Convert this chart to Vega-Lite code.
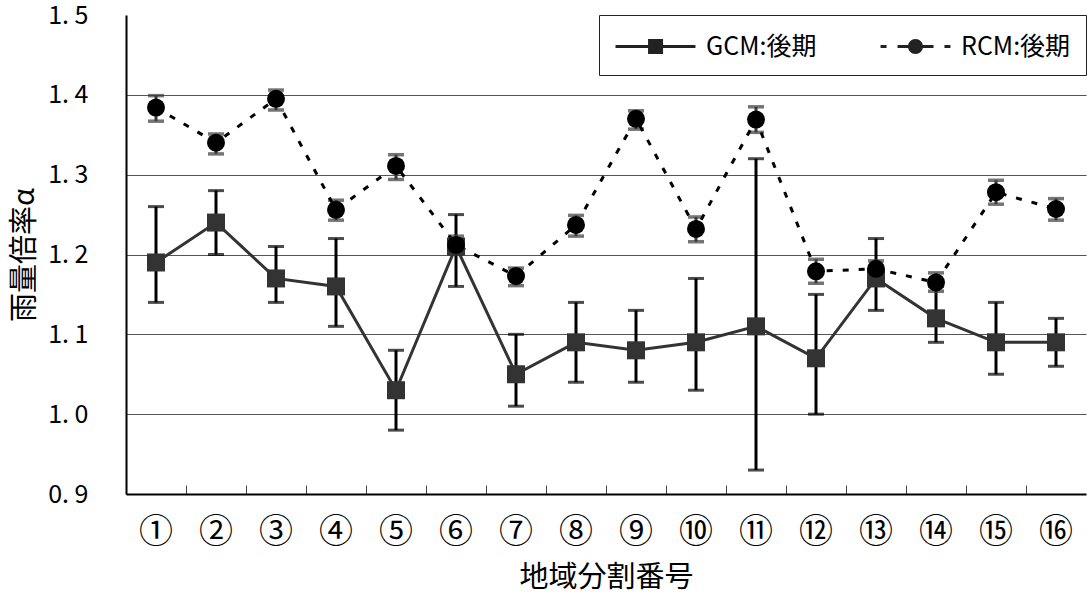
{
  "$schema": "https://vega.github.io/schema/vega-lite/v6.json",
  "width": 960,
  "height": 479,
  "autosize": {"type": "none"},
  "padding": {"left": 126, "top": 15, "right": 1, "bottom": 101},
  "background": "white",
  "config": {
    "font": "Noto Sans CJK JP",
    "view": {"stroke": null},
    "axis": {"labelFont": "Noto Sans CJK JP", "titleFont": "Noto Sans CJK JP", "labelColor": "black", "titleColor": "black", "titleFontWeight": "normal", "domainColor": "black", "domainWidth": 2}
  },
  "datasets": {
    "rows": [
      {"region": "①", "series": "GCM:後期", "v": 1.19, "lo": 1.14, "hi": 1.26},
      {"region": "②", "series": "GCM:後期", "v": 1.24, "lo": 1.2, "hi": 1.28},
      {"region": "③", "series": "GCM:後期", "v": 1.17, "lo": 1.14, "hi": 1.21},
      {"region": "④", "series": "GCM:後期", "v": 1.16, "lo": 1.11, "hi": 1.22},
      {"region": "⑤", "series": "GCM:後期", "v": 1.03, "lo": 0.98, "hi": 1.08},
      {"region": "⑥", "series": "GCM:後期", "v": 1.21, "lo": 1.16, "hi": 1.25},
      {"region": "⑦", "series": "GCM:後期", "v": 1.05, "lo": 1.01, "hi": 1.1},
      {"region": "⑧", "series": "GCM:後期", "v": 1.09, "lo": 1.04, "hi": 1.14},
      {"region": "⑨", "series": "GCM:後期", "v": 1.08, "lo": 1.04, "hi": 1.13},
      {"region": "⑩", "series": "GCM:後期", "v": 1.09, "lo": 1.03, "hi": 1.17},
      {"region": "⑪", "series": "GCM:後期", "v": 1.11, "lo": 0.93, "hi": 1.32},
      {"region": "⑫", "series": "GCM:後期", "v": 1.07, "lo": 1.0, "hi": 1.15},
      {"region": "⑬", "series": "GCM:後期", "v": 1.17, "lo": 1.13, "hi": 1.22},
      {"region": "⑭", "series": "GCM:後期", "v": 1.12, "lo": 1.09, "hi": 1.16},
      {"region": "⑮", "series": "GCM:後期", "v": 1.09, "lo": 1.05, "hi": 1.14},
      {"region": "⑯", "series": "GCM:後期", "v": 1.09, "lo": 1.06, "hi": 1.12},
      {"region": "①", "series": "RCM:後期", "v": 1.384, "lo": 1.367, "hi": 1.399},
      {"region": "②", "series": "RCM:後期", "v": 1.34, "lo": 1.326, "hi": 1.351},
      {"region": "③", "series": "RCM:後期", "v": 1.395, "lo": 1.381, "hi": 1.406},
      {"region": "④", "series": "RCM:後期", "v": 1.256, "lo": 1.243, "hi": 1.268},
      {"region": "⑤", "series": "RCM:後期", "v": 1.311, "lo": 1.294, "hi": 1.325},
      {"region": "⑥", "series": "RCM:後期", "v": 1.212, "lo": 1.201, "hi": 1.223},
      {"region": "⑦", "series": "RCM:後期", "v": 1.173, "lo": 1.161, "hi": 1.183},
      {"region": "⑧", "series": "RCM:後期", "v": 1.237, "lo": 1.223, "hi": 1.249},
      {"region": "⑨", "series": "RCM:後期", "v": 1.37, "lo": 1.357, "hi": 1.38},
      {"region": "⑩", "series": "RCM:後期", "v": 1.232, "lo": 1.216, "hi": 1.247},
      {"region": "⑪", "series": "RCM:後期", "v": 1.369, "lo": 1.353, "hi": 1.385},
      {"region": "⑫", "series": "RCM:後期", "v": 1.179, "lo": 1.164, "hi": 1.194},
      {"region": "⑬", "series": "RCM:後期", "v": 1.182, "lo": 1.172, "hi": 1.192},
      {"region": "⑭", "series": "RCM:後期", "v": 1.165, "lo": 1.154, "hi": 1.177},
      {"region": "⑮", "series": "RCM:後期", "v": 1.278, "lo": 1.263, "hi": 1.293},
      {"region": "⑯", "series": "RCM:後期", "v": 1.257, "lo": 1.243, "hi": 1.27}
    ]
  },
  "data": {"name": "rows"},
  "encoding": {
    "x": {
      "field": "region", "type": "nominal", "sort": null,
      "scale": {"paddingInner": 0, "paddingOuter": 0},
      "axis": {"title": "地域分割番号", "labelAngle": 0, "labelFontSize": 34, "titleFontSize": 29, "bandPosition": 0, "tickSize": -9, "tickColor": "#444", "tickWidth": 1, "labelPadding": 30, "titlePadding": 14, "grid": false}
    }
  },
  "layer": [
    {
      "mark": {"type": "point", "filled": false, "opacity": 0, "size": 324, "fill": "#222222", "stroke": "#222222", "strokeWidth": 3},
      "encoding": {
        "y": {"field": "v", "type": "quantitative", "scale": {"domain": [0.9, 1.5], "nice": false, "zero": false},
          "axis": {"title": "雨量倍率α", "titleFontSize": 29, "labelFontSize": 25, "values": [0.9, 1.0, 1.1, 1.2, 1.3, 1.4, 1.5], "labelExpr": "replace(format(datum.value, '.1f'), '.', '. ')", "ticks": false, "labelPadding": 38, "titlePadding": 8, "grid": true, "gridColor": {"condition": {"test": "datum.value > 1.45 || datum.value < 0.95", "value": "transparent"}, "value": "#555"}, "gridWidth": 1}},
        "shape": {"field": "series", "type": "nominal",
          "scale": {"domain": ["GCM:後期", "RCM:後期"], "range": ["M-1,-0.1L4.33,-0.1L4.33,0.1L-1,0.1ZM1.17,-0.5L2.17,-0.5L2.17,0.5L1.17,0.5Z", "M-0.33,-0.1L0.07,-0.1L0.07,0.1L-0.33,0.1ZM0.8,-0.1L1.6,-0.1L1.6,0.1L0.8,0.1ZM2.4,-0.1L3.2,-0.1L3.2,0.1L2.4,0.1ZM3.93,-0.1L4.33,-0.1L4.33,0.1L3.93,0.1ZM2.5,0A0.5,0.5 0 1,1 1.5,0A0.5,0.5 0 1,1 2.5,0Z"]},
          "legend": {
            "title": null, "orient": "top-right", "offset": 0, "direction": "horizontal", "columns": 2,
            "padding": 15, "columnPadding": 52, "labelOffset": 59,
            "labelFont": "Noto Sans CJK JP", "labelFontSize": 25, "labelColor": "black",
            "strokeColor": "#222", "fillColor": "white",
            "symbolSize": 900, "symbolStrokeWidth": 3, "symbolOpacity": 1,
            "symbolFillColor": "#222222", "symbolStrokeColor": "#222222"
          }
        }
      }
    },
    {
      "mark": {"type": "rule", "color": "black", "strokeWidth": 3},
      "transform": [{"filter": "datum.series === 'GCM:後期'"}],
      "encoding": {"y": {"field": "lo", "type": "quantitative"}, "y2": {"field": "hi"}}
    },
    {
      "mark": {"type": "tick", "color": "black", "thickness": 3, "size": 16},
      "transform": [{"filter": "datum.series === 'GCM:後期'"}],
      "encoding": {"y": {"field": "lo", "type": "quantitative"}}
    },
    {
      "mark": {"type": "tick", "color": "black", "thickness": 3, "size": 16},
      "transform": [{"filter": "datum.series === 'GCM:後期'"}],
      "encoding": {"y": {"field": "hi", "type": "quantitative"}}
    },
    {
      "mark": {"type": "rule", "color": "#3a3a3a", "strokeWidth": 3},
      "transform": [{"filter": "datum.series === 'RCM:後期'"}],
      "encoding": {"y": {"field": "lo", "type": "quantitative"}, "y2": {"field": "hi"}}
    },
    {
      "mark": {"type": "tick", "color": "#3a3a3a", "thickness": 3.5, "size": 16},
      "transform": [{"filter": "datum.series === 'RCM:後期'"}],
      "encoding": {"y": {"field": "lo", "type": "quantitative"}}
    },
    {
      "mark": {"type": "tick", "color": "#3a3a3a", "thickness": 3.5, "size": 16},
      "transform": [{"filter": "datum.series === 'RCM:後期'"}],
      "encoding": {"y": {"field": "hi", "type": "quantitative"}}
    },
    {
      "mark": {"type": "line", "color": "#333333", "strokeWidth": 3},
      "transform": [{"filter": "datum.series === 'GCM:後期'"}],
      "encoding": {"y": {"field": "v", "type": "quantitative"}}
    },
    {
      "mark": {"type": "line", "color": "black", "strokeWidth": 3, "strokeDash": [6, 10]},
      "transform": [{"filter": "datum.series === 'RCM:後期'"}],
      "encoding": {"y": {"field": "v", "type": "quantitative"}}
    },
    {
      "mark": {"type": "point", "filled": true, "opacity": 1, "size": 324, "color": "#333333", "shape": "square"},
      "transform": [{"filter": "datum.series === 'GCM:後期'"}],
      "encoding": {"y": {"field": "v", "type": "quantitative"}}
    },
    {
      "mark": {"type": "point", "filled": true, "opacity": 1, "size": 324, "color": "#000000", "shape": "circle"},
      "transform": [{"filter": "datum.series === 'RCM:後期'"}],
      "encoding": {"y": {"field": "v", "type": "quantitative"}}
    }
  ]
}
